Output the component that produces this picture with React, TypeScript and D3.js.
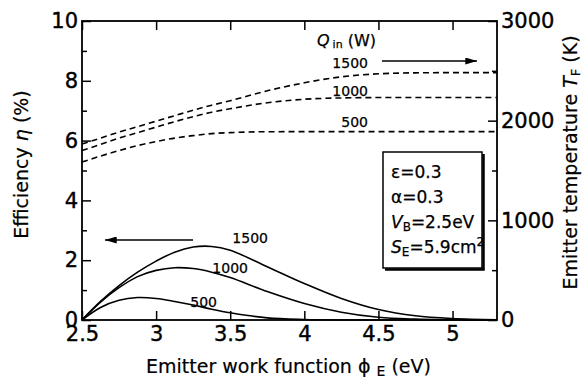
import React, { useRef, useEffect } from "react";
import * as d3 from "d3";

// work function grid (eV)
const phi = [2.5, 2.625, 2.75, 2.875, 3.0, 3.125, 3.25, 3.375, 3.5, 3.75, 4.0, 4.25, 4.5, 4.75, 5.0, 5.3];

// efficiency (%) for Qin = 1500, 1000, 500 W
const eta1500 = [0, 0.62, 1.15, 1.6, 1.97, 2.27, 2.44, 2.46, 2.33, 1.78, 1.22, 0.72, 0.35, 0.14, 0.05, 0.01];
const eta1000 = [0, 0.6, 1.08, 1.45, 1.66, 1.75, 1.72, 1.6, 1.42, 0.95, 0.55, 0.26, 0.09, 0.03, 0.01, 0];
const eta500 = [0, 0.42, 0.66, 0.75, 0.72, 0.62, 0.5, 0.36, 0.24, 0.07, 0.015, 0, 0, 0, 0, 0];

// emitter temperature (K)
const temp1500 = [1765, 1825, 1885, 1940, 1995, 2050, 2105, 2155, 2200, 2300, 2380, 2440, 2470, 2480, 2482, 2482];
const temp1000 = [1700, 1762, 1825, 1880, 1935, 1990, 2040, 2085, 2120, 2180, 2215, 2228, 2232, 2233, 2233, 2233];
const temp500 = [1585, 1645, 1700, 1750, 1790, 1825, 1850, 1870, 1880, 1889, 1890, 1890, 1890, 1890, 1890, 1890];

const powerLabels = ["1500", "1000", "500"];

const xTicks = [2.5, 3, 3.5, 4, 4.5, 5];
const yLeftTicks = [0, 2, 4, 6, 8, 10];
const yLeftMinor = [1, 3, 5, 7, 9];
const yRightTicks = [0, 1000, 2000, 3000];
const yRightMinor = [500, 1500, 2500];

const W = 582;
const H = 381;
const FONT = "'DejaVu Sans', Verdana, sans-serif";

const App = () => {
  const ref = useRef<SVGSVGElement>(null);

  useEffect(() => {
    if (!ref.current) return;
    const svg = d3.select(ref.current);
    svg.selectAll("*").remove();

    const margin = { top: 21, right: 85, bottom: 61, left: 82 };
    const left = margin.left;
    const right = W - margin.right;
    const top = margin.top;
    const bottom = H - margin.bottom;

    const x = d3.scaleLinear().domain([2.5, 5.3]).range([left, right]);
    const yL = d3.scaleLinear().domain([0, 10]).range([bottom, top]);
    const yR = d3.scaleLinear().domain([0, 3000]).range([bottom, top]);

    // arrowhead
    const defs = svg.append("defs");
    defs.append("marker")
      .attr("id", "head")
      .attr("viewBox", "0 0 10 6")
      .attr("refX", 10).attr("refY", 3)
      .attr("markerWidth", 15).attr("markerHeight", 7)
      .attr("markerUnits", "userSpaceOnUse")
      .attr("orient", "auto")
      .append("path").attr("d", "M0,0L10,3L0,6Z").attr("fill", "#000");

    const styleAxis = (g: any) => {
      g.select(".domain").remove();
      g.selectAll("line").attr("stroke", "#000").attr("stroke-width", 1.5);
      g.selectAll("text")
        .attr("font-family", FONT).attr("font-size", 21).attr("fill", "#000")
        .attr("stroke", "#000").attr("stroke-width", 0.4);
    };

    // bottom axis
    svg.append("g")
      .attr("transform", `translate(0,${bottom})`)
      .call(d3.axisBottom(x).tickValues(xTicks).tickSizeInner(-9).tickSizeOuter(0).tickPadding(6).tickFormat(d3.format("")))
      .call(styleAxis);
    // top axis ticks
    svg.append("g")
      .attr("transform", `translate(0,${top})`)
      .call(d3.axisTop(x).tickValues(xTicks).tickSizeInner(-9).tickSizeOuter(0).tickFormat(() => ""))
      .call(styleAxis);
    // left axis
    svg.append("g")
      .attr("transform", `translate(${left},0)`)
      .call(d3.axisLeft(yL).tickValues(yLeftTicks).tickSizeInner(-9).tickSizeOuter(0).tickPadding(4))
      .call(styleAxis);
    svg.append("g")
      .attr("transform", `translate(${left},0)`)
      .call(d3.axisLeft(yL).tickValues(yLeftMinor).tickSizeInner(-5).tickSizeOuter(0).tickFormat(() => ""))
      .call(styleAxis);
    // right axis
    svg.append("g")
      .attr("transform", `translate(${right},0)`)
      .call(d3.axisRight(yR).tickValues(yRightTicks).tickSizeInner(-9).tickSizeOuter(0).tickPadding(4).tickFormat(d3.format("d")))
      .call(styleAxis);
    svg.append("g")
      .attr("transform", `translate(${right},0)`)
      .call(d3.axisRight(yR).tickValues(yRightMinor).tickSizeInner(-5).tickSizeOuter(0).tickFormat(() => ""))
      .call(styleAxis);

    // frame
    svg.append("rect")
      .attr("x", left).attr("y", top)
      .attr("width", right - left).attr("height", bottom - top)
      .attr("fill", "none").attr("stroke", "#000").attr("stroke-width", 1.8);

    // efficiency curves
    const lineL = d3.line<number>()
      .x((_, i) => x(phi[i]))
      .y((d) => yL(d))
      .curve(d3.curveCatmullRom.alpha(0.5));
    [eta1500, eta1000, eta500].forEach((s) => {
      svg.append("path").datum(s)
        .attr("fill", "none").attr("stroke", "#000").attr("stroke-width", 1.6)
        .attr("d", lineL);
    });

    // temperature curves
    const lineR = d3.line<number>()
      .x((_, i) => x(phi[i]))
      .y((d) => yR(d))
      .curve(d3.curveMonotoneX);
    [temp1500, temp1000, temp500].forEach((s) => {
      svg.append("path").datum(s)
        .attr("fill", "none").attr("stroke", "#000").attr("stroke-width", 1.6)
        .attr("stroke-dasharray", "6,4")
        .attr("d", lineR);
    });

    const txt = (xx: number, yy: number, s: string, size: number, anchor = "start") =>
      svg.append("text")
        .attr("x", xx).attr("y", yy)
        .attr("font-family", FONT).attr("font-size", size)
        .attr("text-anchor", anchor).attr("fill", "#000")
        .attr("stroke", "#000").attr("stroke-width", 0.25)
        .text(s);

    // curve labels (temperature)
    txt(368, 68, powerLabels[0], 14, "end");
    txt(368, 96, powerLabels[1], 14, "end");
    txt(368, 127, powerLabels[2], 14, "end");
    // curve labels (efficiency)
    txt(268, 243, powerLabels[0], 14, "end");
    txt(248, 273, powerLabels[1], 14, "end");
    txt(217, 307, powerLabels[2], 14, "end");

    // Qin label
    const q = svg.append("text")
      .attr("x", 317).attr("y", 46)
      .attr("font-family", FONT).attr("font-size", 16).attr("fill", "#000")
      .attr("stroke", "#000").attr("stroke-width", 0.25);
    q.append("tspan").attr("font-style", "italic").text("Q");
    q.append("tspan").attr("font-size", 11).attr("dx", 3).attr("dy", 2).text("in");
    q.append("tspan").attr("dy", -2).text(" (W)");

    // arrows
    svg.append("line")
      .attr("x1", 382).attr("y1", 61).attr("x2", 477).attr("y2", 61)
      .attr("stroke", "#000").attr("stroke-width", 1.5).attr("marker-end", "url(#head)");
    svg.append("line")
      .attr("x1", 193).attr("y1", 240).attr("x2", 105).attr("y2", 240)
      .attr("stroke", "#000").attr("stroke-width", 1.5).attr("marker-end", "url(#head)");

    // parameter box
    const bx = 383, by = 152, bw = 99, bh = 116;
    svg.append("path")
      .attr("d", `M${bx + bw + 1.5},${by + 2}V${by + bh + 1.5}H${bx + 2}`)
      .attr("fill", "none").attr("stroke", "#000").attr("stroke-width", 2.5);
    svg.append("rect")
      .attr("x", bx).attr("y", by).attr("width", bw).attr("height", bh)
      .attr("fill", "#fff").attr("stroke", "#000").attr("stroke-width", 1.5);

    const tx = 391;
    txt(tx, 178, "ε=0.3", 17);
    txt(tx, 203, "α=0.3", 17);
    const vb = svg.append("text").attr("x", tx).attr("y", 228)
      .attr("font-family", FONT).attr("font-size", 17).attr("fill", "#000")
      .attr("stroke", "#000").attr("stroke-width", 0.25);
    vb.append("tspan").attr("font-style", "italic").text("V");
    vb.append("tspan").attr("font-size", 12).attr("dy", 3).text("B");
    vb.append("tspan").attr("dy", -3).text("=2.5eV");
    const se = svg.append("text").attr("x", tx).attr("y", 253)
      .attr("font-family", FONT).attr("font-size", 17).attr("fill", "#000")
      .attr("stroke", "#000").attr("stroke-width", 0.25);
    se.append("tspan").attr("font-style", "italic").text("S");
    se.append("tspan").attr("font-size", 12).attr("dy", 3).text("E");
    se.append("tspan").attr("dy", -3).text("=5.9cm");
    se.append("tspan").attr("font-size", 12).attr("dy", -7).text("2");

    // axis titles
    const titleText = (sel: any) =>
      sel.attr("font-family", FONT).attr("font-size", 19).attr("fill", "#000")
        .attr("stroke", "#000").attr("stroke-width", 0.2)
        .attr("text-anchor", "middle");

    const xt = svg.append("text")
      .attr("x", (left + right) / 2 - 1).attr("y", 373)
      .call(titleText);
    xt.append("tspan").text("Emitter work function ϕ ");
    xt.append("tspan").attr("font-size", 14).attr("dy", 3).text("E");
    xt.append("tspan").attr("dy", -3).text(" (eV)");

    const ylt = svg.append("text")
      .attr("transform", `translate(28,${(top + bottom) / 2 - 6}) rotate(-90)`)
      .call(titleText);
    ylt.append("tspan").text("Efficiency ");
    ylt.append("tspan").attr("font-style", "italic").text("η");
    ylt.append("tspan").text("  (%)");

    const yrt = svg.append("text")
      .attr("transform", `translate(577,${(top + bottom) / 2 - 8}) rotate(-90)`)
      .call(titleText);
    yrt.append("tspan").text("Emitter temperature ");
    yrt.append("tspan").attr("font-style", "italic").text("T");
    yrt.append("tspan").attr("font-size", 13).attr("dy", 3).text("F");
    yrt.append("tspan").attr("dy", -3).text(" (K)");
  }, []);

  return (
    <svg
      ref={ref}
      width={W}
      height={H}
      style={{ position: "absolute", left: 0, top: 0, background: "#fff" }}
    />
  );
};

export default App;
